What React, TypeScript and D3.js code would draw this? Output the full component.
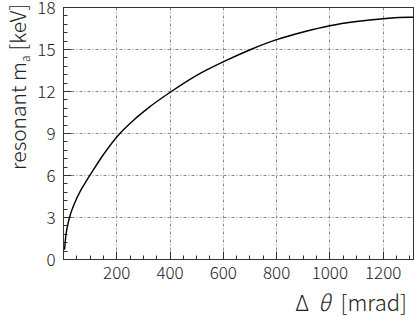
import { useEffect, useRef } from "react";
import * as d3 from "d3";

// values
const deltaTheta = [4, 8, 14, 22.5, 40, 65, 87, 102, 150, 209, 260, 320, 405, 500, 609, 703, 800, 900, 1000, 1100, 1200, 1300, 1314];
const massKeV = [0.7, 1.6, 2.3, 3.0, 3.95, 4.95, 5.65, 6.1, 7.5, 8.95, 9.9, 10.85, 12.0, 13.15, 14.2, 15.0, 15.7, 16.25, 16.7, 17.0, 17.2, 17.3, 17.3];
const xTicks = [200, 400, 600, 800, 1000, 1200];
const yTicks = [0, 3, 6, 9, 12, 15, 18];

const App = () => {
  const svgRef = useRef<SVGSVGElement>(null);
  const width = 415;
  const height = 318;

  useEffect(() => {
    const svg = d3.select(svgRef.current);
    svg.selectAll("*").remove();

    const margin = { left: 63, top: 7, right: 2, bottom: 59 };
    const innerWidth = width - margin.left - margin.right;
    const innerHeight = height - margin.top - margin.bottom;
    const font = "'Noto Sans CJK JP', 'DejaVu Sans', sans-serif";

    const x = d3.scaleLinear().domain([0, 1314]).range([0, innerWidth]);
    const y = d3.scaleLinear().domain([0, 18]).range([innerHeight, 0]);

    const g = svg.append("g")
      .attr("transform", `translate(${margin.left + 0.5}, ${margin.top + 0.5})`);

    // grid
    g.selectAll(".gx")
      .data(xTicks)
      .enter()
      .append("line")
      .attr("x1", d => Math.round(x(d)))
      .attr("x2", d => Math.round(x(d)))
      .attr("y1", 0)
      .attr("y2", innerHeight)
      .attr("stroke", "#888")
      .attr("stroke-dasharray", "3,2,1,2");

    g.selectAll(".gy")
      .data(yTicks.filter(d => d > 0 && d < 18))
      .enter()
      .append("line")
      .attr("x1", 0)
      .attr("x2", innerWidth)
      .attr("y1", d => Math.round(y(d)))
      .attr("y2", d => Math.round(y(d)))
      .attr("stroke", "#888")
      .attr("stroke-dasharray", "3,2,1,2");

    // minor/major ticks, inward
    const xMinor = d3.range(50, 1314, 50);
    g.selectAll(".tx")
      .data(xMinor)
      .enter()
      .append("line")
      .attr("x1", d => Math.round(x(d)))
      .attr("x2", d => Math.round(x(d)))
      .attr("y1", innerHeight)
      .attr("y2", d => innerHeight - (d % 200 === 0 ? 8 : 4))
      .attr("stroke", "#333");

    const yMinor = d3.range(0.6, 18, 0.6);
    g.selectAll(".ty")
      .data(yMinor)
      .enter()
      .append("line")
      .attr("y1", d => Math.round(y(d)))
      .attr("y2", d => Math.round(y(d)))
      .attr("x1", 0)
      .attr("x2", d => (Math.abs(d / 3 - Math.round(d / 3)) < 0.01 ? 8 : 4))
      .attr("stroke", "#333");

    // frame
    g.append("rect")
      .attr("width", innerWidth)
      .attr("height", innerHeight)
      .attr("fill", "none")
      .attr("stroke", "#333");

    // curve
    const pts: [number, number][] = deltaTheta.map((d, i) => [d, massKeV[i]]);
    const line = d3.line<[number, number]>()
      .x(d => x(d[0]))
      .y(d => y(d[1]))
      .curve(d3.curveMonotoneX);
    g.append("path")
      .attr("d", line(pts))
      .attr("fill", "none")
      .attr("stroke", "#000")
      .attr("stroke-width", 1.4);

    // tick labels
    g.selectAll(".lx")
      .data(xTicks)
      .enter()
      .append("text")
      .attr("x", d => x(d))
      .attr("y", innerHeight + 19)
      .attr("text-anchor", "middle")
      .attr("font-family", font)
      .attr("font-weight", 300)
      .attr("font-size", 17)
      .attr("fill", "#222")
      .text(d => d);

    g.selectAll(".ly")
      .data(yTicks)
      .enter()
      .append("text")
      .attr("x", -8)
      .attr("y", d => y(d) + 6)
      .attr("text-anchor", "end")
      .attr("font-family", font)
      .attr("font-weight", 300)
      .attr("font-size", 17)
      .attr("fill", "#222")
      .text(d => d);

    // axis titles
    const xt = svg.append("text")
      .attr("x", 407)
      .attr("y", 311)
      .attr("text-anchor", "end")
      .attr("font-family", font)
      .attr("font-weight", 300)
      .attr("font-size", 22)
      .attr("fill", "#222");
    xt.append("tspan").text("Δ");
    xt.append("tspan").attr("dx", 9).attr("font-style", "italic").text("θ");
    xt.append("tspan").attr("dx", 10).text("[mrad]");

    const yt = svg.append("text")
      .attr("transform", "translate(26, 4) rotate(-90)")
      .attr("text-anchor", "end")
      .attr("font-family", font)
      .attr("font-weight", 300)
      .attr("font-size", 21)
      .attr("fill", "#222");
    yt.append("tspan").text("resonant m");
    yt.append("tspan").attr("font-size", 12).attr("dy", 4).text("a");
    yt.append("tspan").attr("dy", -4).attr("dx", 5).text("[keV]");
  }, []);

  return (
    <div style={{ position: "fixed", left: 0, top: 0 }}>
      <svg ref={svgRef} width={width} height={height} style={{ display: "block", background: "#fff" }} />
    </div>
  );
};

export default App;
